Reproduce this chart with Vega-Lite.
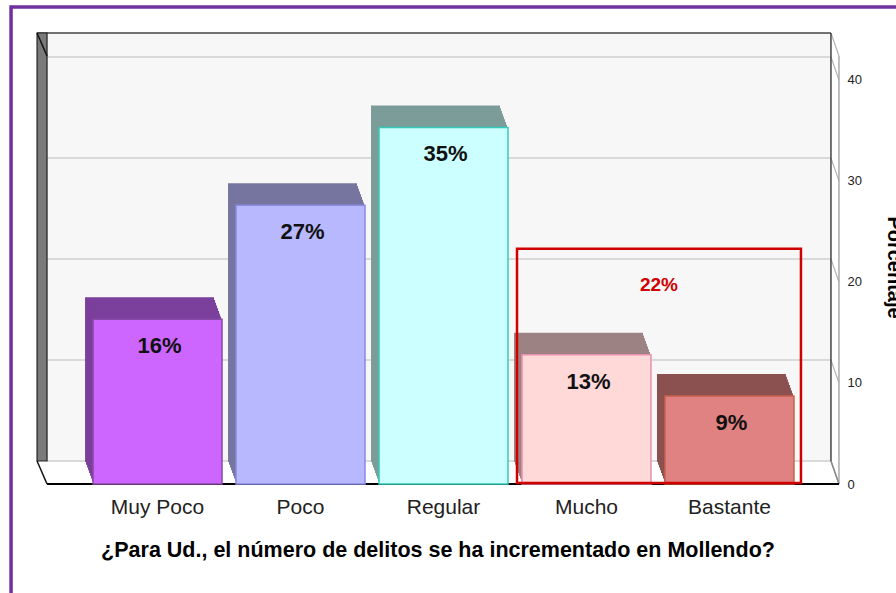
{
  "$schema": "https://vega.github.io/schema/vega-lite/v6.json",
  "width": 801,
  "height": 451,
  "autosize": {"type": "none"},
  "padding": {"left": 37, "top": 33, "right": 58, "bottom": 109},
  "background": "white",
  "config": {"view": {"stroke": null}, "font": "Liberation Sans"},
  "datasets": {
    "barras": [
      {"respuesta": "Muy Poco", "porcentaje": 16.3, "etiqueta": "16%"},
      {"respuesta": "Poco", "porcentaje": 27.6, "etiqueta": "27%"},
      {"respuesta": "Regular", "porcentaje": 35.3, "etiqueta": "35%"},
      {"respuesta": "Mucho", "porcentaje": 12.8, "etiqueta": "13%"},
      {"respuesta": "Bastante", "porcentaje": 8.7, "etiqueta": "9%"}
    ],
    "grid": [{"v": 0}, {"v": 10}, {"v": 20}, {"v": 30}, {"v": 40}],
    "grupo": [{"desde": "Mucho", "hasta": "Bastante", "total": 22, "etiqueta": "22%"}],
    "uno": [{"k": 1}]
  },
  "layer": [
    {
      "data": {"name": "uno"},
      "mark": {"type": "rect", "fill": null, "stroke": "#7030a0", "strokeWidth": 3.5, "xOffset": -82, "x2Offset": 200, "yOffset": -26, "y2Offset": 130},
      "encoding": {
        "x": {"datum": "Muy Poco", "type": "nominal", "bandPosition": 0},
        "x2": {"datum": "Bastante"},
        "y": {"datum": 44.65, "type": "quantitative"},
        "y2": {"datum": 0}
      }
    },
    {
      "data": {"name": "uno"},
      "mark": {"type": "rect", "fill": "#f7f7f7", "xOffset": -56, "x2Offset": 101.5, "y2Offset": -23},
      "encoding": {
        "x": {"datum": "Muy Poco", "type": "nominal", "bandPosition": 0},
        "x2": {"datum": "Bastante"},
        "y": {"datum": 44.65, "type": "quantitative", "scale": {"domain": [0, 44.65], "nice": false, "zero": true}},
        "y2": {"datum": 0}
      }
    },
    {
      "data": {"name": "grid"},
      "mark": {"type": "rule", "color": "#cfcfcf", "strokeWidth": 1.5, "xOffset": -46, "x2Offset": 101.5, "yOffset": -23},
      "encoding": {
        "x": {"datum": "Muy Poco", "type": "nominal", "bandPosition": 0},
        "x2": {"datum": "Bastante"},
        "y": {"field": "v", "type": "quantitative"}
      }
    },
    {
      "data": {"name": "grid"},
      "mark": {"type": "rule", "color": "#b4b4b4", "strokeWidth": 1.2, "xOffset": 37, "x2Offset": 109.5, "yOffset": -23},
      "encoding": {
        "x": {"datum": "Bastante", "type": "nominal", "bandPosition": 1},
        "x2": {"datum": "Bastante"},
        "y": {"field": "v", "type": "quantitative"},
        "y2": {"field": "v"}
      }
    },
    {
      "data": {"name": "uno"},
      "mark": {"type": "rule", "color": "#b4b4b4", "strokeWidth": 1.2, "xOffset": 37, "x2Offset": 109.5, "y2Offset": 23},
      "encoding": {
        "x": {"datum": "Bastante", "type": "nominal", "bandPosition": 1},
        "x2": {"datum": "Bastante"},
        "y": {"datum": 44.65, "type": "quantitative"},
        "y2": {"datum": 44.65}
      }
    },
    {
      "data": {"name": "uno"},
      "mark": {"type": "rule", "color": "#aaaaaa", "strokeWidth": 1.5, "xOffset": 45, "yOffset": 23},
      "encoding": {
        "x": {"datum": "Bastante", "type": "nominal", "bandPosition": 1},
        "y": {"datum": 44.65, "type": "quantitative"},
        "y2": {"datum": 0}
      }
    },
    {
      "data": {"name": "uno"},
      "mark": {"type": "rule", "color": "#444444", "strokeWidth": 1.5, "xOffset": -56, "x2Offset": 101.5},
      "encoding": {
        "x": {"datum": "Muy Poco", "type": "nominal", "bandPosition": 0},
        "x2": {"datum": "Bastante"},
        "y": {"datum": 44.65, "type": "quantitative"}
      }
    },
    {
      "data": {"name": "uno"},
      "mark": {"type": "rule", "color": "#444444", "strokeWidth": 1.5, "xOffset": 37, "y2Offset": -23},
      "encoding": {
        "x": {"datum": "Bastante", "type": "nominal", "bandPosition": 1},
        "y": {"datum": 44.65, "type": "quantitative"},
        "y2": {"datum": 0}
      }
    },
    {
      "data": {"name": "uno"},
      "mark": {"type": "rule", "color": "#888888", "strokeWidth": 1.5, "xOffset": 37, "x2Offset": 109.5, "yOffset": -23},
      "encoding": {
        "x": {"datum": "Bastante", "type": "nominal", "bandPosition": 1},
        "x2": {"datum": "Bastante"},
        "y": {"datum": 0, "type": "quantitative"},
        "y2": {"datum": 0}
      }
    },
    {
      "data": {"name": "uno"},
      "mark": {"type": "rect", "fill": "#7a7a7a", "stroke": "#222222", "strokeWidth": 1.2, "xOffset": -56, "x2Offset": -110.5, "y2Offset": -23},
      "encoding": {
        "x": {"datum": "Muy Poco", "type": "nominal", "bandPosition": 0},
        "x2": {"datum": "Muy Poco"},
        "y": {"datum": 44.65, "type": "quantitative"},
        "y2": {"datum": 0}
      }
    },
    {
      "data": {"name": "uno"},
      "mark": {"type": "rule", "color": "#111111", "strokeWidth": 1.5, "xOffset": -56, "x2Offset": -110.5, "yOffset": -23},
      "encoding": {
        "x": {"datum": "Muy Poco", "type": "nominal", "bandPosition": 0},
        "x2": {"datum": "Muy Poco"},
        "y": {"datum": 0, "type": "quantitative"},
        "y2": {"datum": 0}
      }
    },
    {
      "data": {"name": "uno"},
      "mark": {"type": "rule", "color": "#111111", "strokeWidth": 1.5, "xOffset": -56, "x2Offset": -110.5, "y2Offset": 23},
      "encoding": {
        "x": {"datum": "Muy Poco", "type": "nominal", "bandPosition": 0},
        "x2": {"datum": "Muy Poco"},
        "y": {"datum": 44.65, "type": "quantitative"},
        "y2": {"datum": 44.65}
      }
    },
    {
      "data": {"name": "uno"},
      "mark": {"type": "rule", "color": "#000000", "strokeWidth": 2.2, "xOffset": -46, "x2Offset": 109.5},
      "encoding": {
        "x": {"datum": "Muy Poco", "type": "nominal", "bandPosition": 0},
        "x2": {"datum": "Bastante"},
        "y": {"datum": 0, "type": "quantitative"}
      }
    },
    {
      "data": {"name": "barras"},
      "mark": {"type": "bar", "xOffset": -8, "yOffset": -22, "y2Offset": -22},
      "encoding": {
        "x": {"field": "respuesta", "type": "nominal"},
        "y": {"field": "porcentaje", "type": "quantitative"},
        "y2": {"datum": 0},
        "color": {"field": "respuesta", "type": "nominal", "legend": null, "scale": {"domain": ["Muy Poco", "Poco", "Regular", "Mucho", "Bastante"], "range": ["#7b3f9c", "#75759f", "#7b9c98", "#9c8282", "#8b5050"]}}
      }
    },
    {
      "data": {"name": "barras"},
      "mark": {"type": "bar", "xOffset": -7, "yOffset": -19.25, "y2Offset": -19.25},
      "encoding": {
        "x": {"field": "respuesta", "type": "nominal"},
        "y": {"field": "porcentaje", "type": "quantitative"},
        "y2": {"datum": 0},
        "color": {"field": "respuesta", "type": "nominal", "legend": null}
      }
    },
    {
      "data": {"name": "barras"},
      "mark": {"type": "bar", "xOffset": -6, "yOffset": -16.5, "y2Offset": -16.5},
      "encoding": {
        "x": {"field": "respuesta", "type": "nominal"},
        "y": {"field": "porcentaje", "type": "quantitative"},
        "y2": {"datum": 0},
        "color": {"field": "respuesta", "type": "nominal", "legend": null}
      }
    },
    {
      "data": {"name": "barras"},
      "mark": {"type": "bar", "xOffset": -5, "yOffset": -13.75, "y2Offset": -13.75},
      "encoding": {
        "x": {"field": "respuesta", "type": "nominal"},
        "y": {"field": "porcentaje", "type": "quantitative"},
        "y2": {"datum": 0},
        "color": {"field": "respuesta", "type": "nominal", "legend": null}
      }
    },
    {
      "data": {"name": "barras"},
      "mark": {"type": "bar", "xOffset": -4, "yOffset": -11, "y2Offset": -11},
      "encoding": {
        "x": {"field": "respuesta", "type": "nominal"},
        "y": {"field": "porcentaje", "type": "quantitative"},
        "y2": {"datum": 0},
        "color": {"field": "respuesta", "type": "nominal", "legend": null}
      }
    },
    {
      "data": {"name": "barras"},
      "mark": {"type": "bar", "xOffset": -3, "yOffset": -8.25, "y2Offset": -8.25},
      "encoding": {
        "x": {"field": "respuesta", "type": "nominal"},
        "y": {"field": "porcentaje", "type": "quantitative"},
        "y2": {"datum": 0},
        "color": {"field": "respuesta", "type": "nominal", "legend": null}
      }
    },
    {
      "data": {"name": "barras"},
      "mark": {"type": "bar", "xOffset": -2, "yOffset": -5.5, "y2Offset": -5.5},
      "encoding": {
        "x": {"field": "respuesta", "type": "nominal"},
        "y": {"field": "porcentaje", "type": "quantitative"},
        "y2": {"datum": 0},
        "color": {"field": "respuesta", "type": "nominal", "legend": null}
      }
    },
    {
      "data": {"name": "barras"},
      "mark": {"type": "bar", "xOffset": -1, "yOffset": -2.75, "y2Offset": -2.75},
      "encoding": {
        "x": {"field": "respuesta", "type": "nominal"},
        "y": {"field": "porcentaje", "type": "quantitative"},
        "y2": {"datum": 0},
        "color": {"field": "respuesta", "type": "nominal", "legend": null}
      }
    },
    {
      "data": {"name": "barras"},
      "mark": {"type": "bar", "strokeWidth": 1.5},
      "encoding": {
        "x": {
          "field": "respuesta", "type": "nominal", "sort": null,
          "scale": {"type": "band", "domain": ["Muy Poco", "Poco", "Regular", "Mucho", "Bastante"], "paddingInner": 0.098, "paddingOuter": 0.35, "align": 0.56},
          "axis": {"title": "¿Para Ud., el número de delitos se ha incrementado en Mollendo?", "titleFontSize": 21.5, "titleFontWeight": "bold", "titleColor": "#000000", "titlePadding": 22, "labelFontSize": 21, "labelColor": "#222222", "labelPadding": 12, "labelAngle": 0, "labelAlign": "center", "labelBaseline": "top", "ticks": false, "domain": false, "grid": false, "bandPosition": 0.5}
        },
        "y": {
          "field": "porcentaje", "type": "quantitative",
          "axis": {"orient": "right", "title": "Porcentaje", "values": [0, 10, 20, 30, 40], "labelFontSize": 13, "labelColor": "#222222", "labelPadding": 9, "ticks": false, "domain": false, "grid": false, "titleFontSize": 20, "titleFontWeight": "bold", "titleColor": "#000000", "titleAngle": 90, "titlePadding": 22, "titleY": 234}
        },
        "y2": {"datum": 0},
        "fill": {"field": "respuesta", "type": "nominal", "legend": null, "scale": {"domain": ["Muy Poco", "Poco", "Regular", "Mucho", "Bastante"], "range": ["#cc66ff", "#b8b8ff", "#ccffff", "#ffd8d8", "#e08282"]}},
        "stroke": {"field": "respuesta", "type": "nominal", "legend": null, "scale": {"domain": ["Muy Poco", "Poco", "Regular", "Mucho", "Bastante"], "range": ["#8a4aa8", "#8a8ae6", "#33ccbb", "#e890b0", "#c8604a"]}}
      }
    },
    {
      "data": {"name": "barras"},
      "mark": {"type": "text", "fontSize": 22, "fontWeight": "bold", "color": "#111111", "baseline": "middle", "yOffset": 27, "xOffset": 2},
      "encoding": {
        "x": {"field": "respuesta", "type": "nominal"},
        "y": {"field": "porcentaje", "type": "quantitative"},
        "text": {"field": "etiqueta"}
      }
    },
    {
      "data": {"name": "grupo"},
      "mark": {"type": "rect", "fill": null, "stroke": "#d00000", "strokeWidth": 2.5, "xOffset": -5, "x2Offset": 7, "yOffset": -13, "y2Offset": -1},
      "encoding": {
        "x": {"field": "desde", "type": "nominal", "bandPosition": 0},
        "x2": {"field": "hasta", "bandPosition": 1},
        "y": {"field": "total", "type": "quantitative"},
        "y2": {"datum": 0}
      }
    },
    {
      "data": {"name": "grupo"},
      "mark": {"type": "text", "fontSize": 19, "fontWeight": "bold", "color": "#d00000", "baseline": "middle", "yOffset": 23, "xOffset": 8},
      "encoding": {
        "x": {"field": "desde", "type": "nominal", "bandPosition": 1},
        "y": {"field": "total", "type": "quantitative"},
        "text": {"field": "etiqueta"}
      }
    }
  ]
}
